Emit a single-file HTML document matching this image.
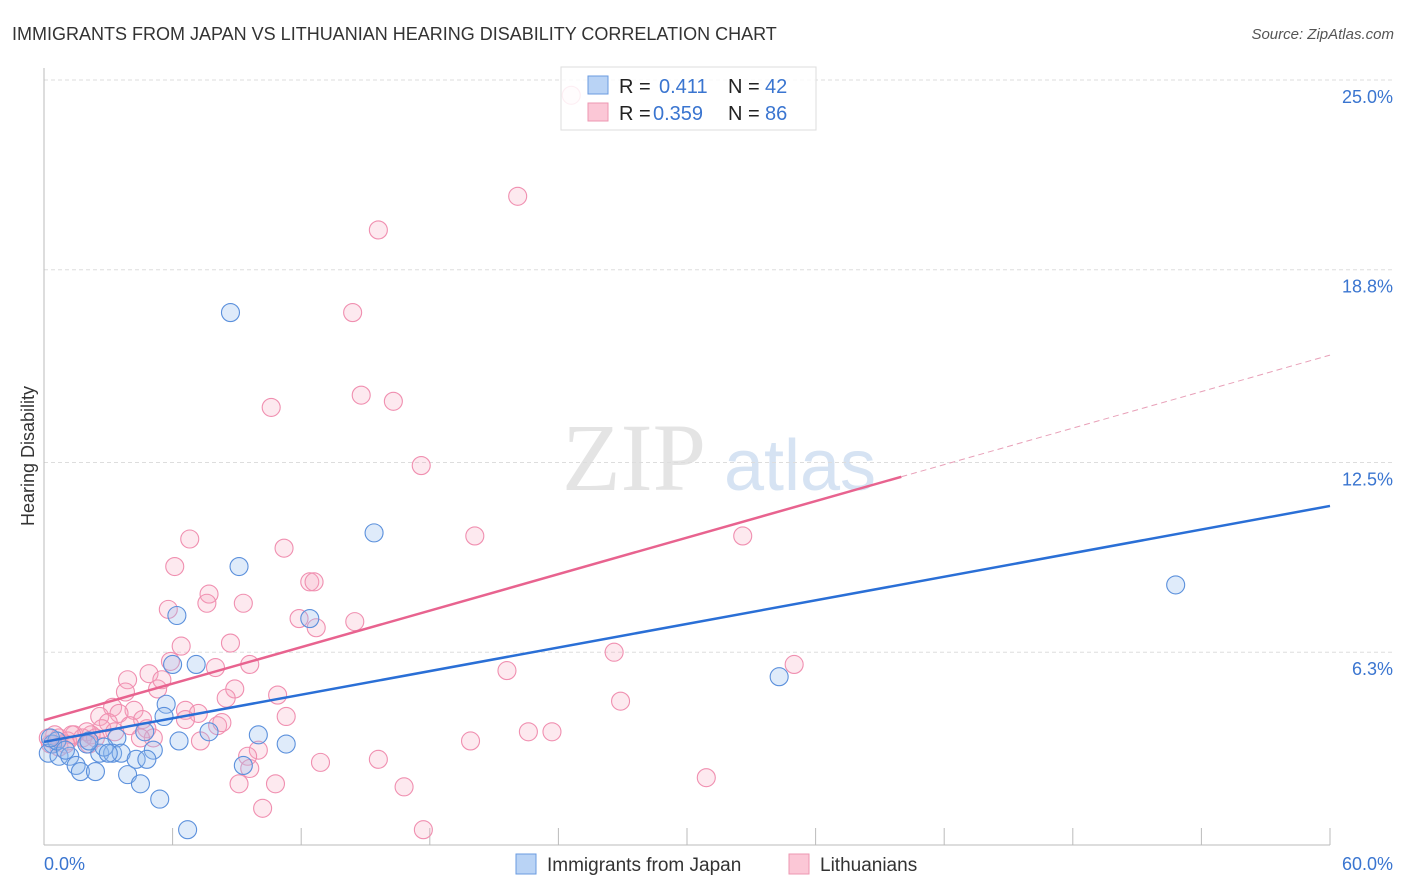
<!DOCTYPE html>
<html><head><meta charset="utf-8"><style>
body{margin:0;background:#fff;font-family:"Liberation Sans",sans-serif}
svg{display:block}
</style></head><body>
<svg width="1406" height="892">
<text x="12" y="40" font-size="18" fill="#333">IMMIGRANTS FROM JAPAN VS LITHUANIAN HEARING DISABILITY CORRELATION CHART</text>
<text x="1394" y="39" font-size="15" fill="#555" font-style="italic" text-anchor="end">Source: ZipAtlas.com</text>
<text x="634" y="490" font-size="96" fill="#e4e4e4" font-family="Liberation Serif" text-anchor="middle">ZIP</text>
<text x="800" y="490" font-size="72" fill="#d6e3f3" text-anchor="middle">atlas</text>
<g id="grid"></g>
<line x1="44" y1="68" x2="44" y2="845" stroke="#bbb"/>
<line x1="44" y1="845" x2="1330" y2="845" stroke="#bbb"/>
<text x="34" y="456" font-size="18" fill="#333" text-anchor="middle" transform="rotate(-90 34 456)">Hearing Disability</text>
<text x="44" y="870" font-size="18" fill="#3a75d0">0.0%</text>
<text x="1393" y="870" font-size="18" fill="#3a75d0" text-anchor="end">60.0%</text>
<g id="pts"></g>
<g id="lines"></g>
<g>
<rect x="561" y="67" width="255" height="63" fill="#fff" fill-opacity="0.85" stroke="#ddd"/>
<rect x="588" y="76" width="20" height="18" fill="#b9d3f5" stroke="#6a9be0"/>
<rect x="588" y="103" width="20" height="18" fill="#fbc7d6" stroke="#ee97b2"/>
<text x="619" y="93" font-size="20" fill="#222">R = <tspan x="659" fill="#3a75d0">0.411</tspan><tspan x="728">N =</tspan><tspan x="765" fill="#3a75d0">42</tspan></text>
<text x="619" y="120" font-size="20" fill="#222">R = <tspan x="653" fill="#3a75d0">0.359</tspan><tspan x="728">N =</tspan><tspan x="765" fill="#3a75d0">86</tspan></text>
</g>
<g>
<rect x="516" y="854" width="20" height="20" fill="#b9d3f5" stroke="#6a9be0"/>
<text x="547" y="871" font-size="19" fill="#333">Immigrants from Japan</text>
<rect x="789" y="854" width="20" height="20" fill="#fbc7d6" stroke="#ee97b2"/>
<text x="820" y="871" font-size="19" fill="#333">Lithuanians</text>
</g>
</svg>
<script>
const yTicks=[25.0,18.8,12.5,6.3];
const yTickLabels=["25.0%","18.8%","12.5%","6.3%"];
const xTicks=[0,6,12,18,24,30,36,42,48,54,60];
const japanX=[8.7,15.4,9.1,52.8,6.2,12.4,6.0,7.1,34.3,5.7,5.6,7.7,4.7,10.0,11.3,3.4,6.3,0.4,5.1,0.2,0.7,1.2,2.6,3.2,3.6,2.8,2.0,4.3,4.8,9.3,1.5,1.7,2.4,3.9,4.5,5.4,6.7,0.6,1.0,2.1,0.3,3.0];
const japanY=[17.4,10.2,9.1,8.5,7.5,7.4,5.9,5.9,5.5,4.6,4.2,3.7,3.7,3.6,3.3,3.5,3.4,3.3,3.1,3.0,2.9,2.9,3.0,3.0,3.0,3.2,3.3,2.8,2.8,2.6,2.6,2.4,2.4,2.3,2.0,1.5,0.5,3.4,3.1,3.4,3.5,3.0];
const lithX=[24.6,22.1,15.6,14.4,14.8,16.3,10.6,17.6,20.1,32.6,6.8,11.2,6.1,12.4,12.6,7.7,7.6,9.3,5.8,11.9,12.7,14.5,6.4,8.7,26.6,35.0,5.9,4.9,9.6,8.0,3.9,5.3,8.9,21.6,3.8,10.9,5.5,8.5,26.9,3.2,4.2,2.6,6.6,7.2,11.3,4.6,3.5,3.0,4.8,8.1,2.7,2.2,1.4,0.7,0.3,1.8,1.1,2.0,3.3,19.9,22.6,23.7,7.3,5.1,10.0,15.6,12.9,9.5,30.9,9.1,10.8,16.8,10.2,17.7,2.4,0.5,1.3,0.7,0.2,1.0,4.0,2.1,6.6,8.3,9.6,4.5];
const lithY=[24.5,21.2,20.1,17.4,14.7,14.5,14.3,12.4,10.1,10.1,10.0,9.7,9.1,8.6,8.6,8.2,7.9,7.9,7.7,7.4,7.1,7.3,6.5,6.6,6.3,5.9,6.0,5.6,5.9,5.8,5.4,5.1,5.1,5.7,5.0,4.9,5.4,4.8,4.7,4.5,4.4,4.2,4.4,4.3,4.2,4.1,4.3,4.0,3.8,3.9,3.8,3.6,3.6,3.5,3.3,3.5,3.4,3.7,3.7,3.4,3.7,3.7,3.4,3.5,3.1,2.8,2.7,2.9,2.2,2.0,2.0,1.9,1.2,0.5,3.5,3.6,3.6,3.2,3.5,3.3,3.9,3.3,4.1,4.0,2.5,3.5];
const japanLine=[3.37,11.08];
const lithLine=[4.08,16.01];
const lithSolidEnd=40;
const NS="http://www.w3.org/2000/svg";
const X=v=>44+v/60*1286, Y=v=>845-v/25*765;
function mk(t,a,p){const e=document.createElementNS(NS,t);for(const k in a)e.setAttribute(k,a[k]);p.appendChild(e);return e;}
const grid=document.getElementById('grid');
yTicks.forEach((t,i)=>{
 const l=mk('line',{x1:44,x2:1395,y1:Y(t),y2:Y(t),stroke:'#ddd','stroke-dasharray':'4,3'},grid);
 
 
 const tx=mk('text',{x:1393,y:Y(t)+23,'font-size':18,fill:'#3a75d0','text-anchor':'end'},grid);
 tx.textContent=yTickLabels[i];
 
 
});
xTicks.forEach(t=>{
 const l=mk('line',{x1:X(t),x2:X(t),y1:828,y2:845,stroke:'#bbb'},grid);
 
 
});
const pts=document.getElementById('pts');
lithX.forEach((v,i)=>{
 const c=mk('circle',{cx:X(v),cy:Y(lithY[i]),r:9,fill:'rgba(246,166,190,0.25)',stroke:'#f08fb0','stroke-width':1.1},pts);
 
 
});
japanX.forEach((v,i)=>{
 const c=mk('circle',{cx:X(v),cy:Y(japanY[i]),r:9,fill:'rgba(150,190,240,0.3)',stroke:'#5b90dc','stroke-width':1.1},pts);
 
 
});
const lines=document.getElementById('lines');
const lv=(a,x)=>a[0]+(a[1]-a[0])*x/60;
const b=mk('line',{x1:X(0),y1:Y(japanLine[0]),x2:X(60),y2:Y(japanLine[1]),stroke:'#2a6fd6','stroke-width':2.5},lines);


const p=mk('line',{x1:X(0),y1:Y(lithLine[0]),x2:X(lithSolidEnd),y2:Y(lv(lithLine,lithSolidEnd)),stroke:'#e8638f','stroke-width':2.5},lines);


const pd=mk('line',{x1:X(lithSolidEnd),y1:Y(lv(lithLine,lithSolidEnd)),x2:X(60),y2:Y(lithLine[1]),stroke:'#e8a0b8','stroke-width':1,'stroke-dasharray':'6,4'},lines);


</script>
</body></html>
